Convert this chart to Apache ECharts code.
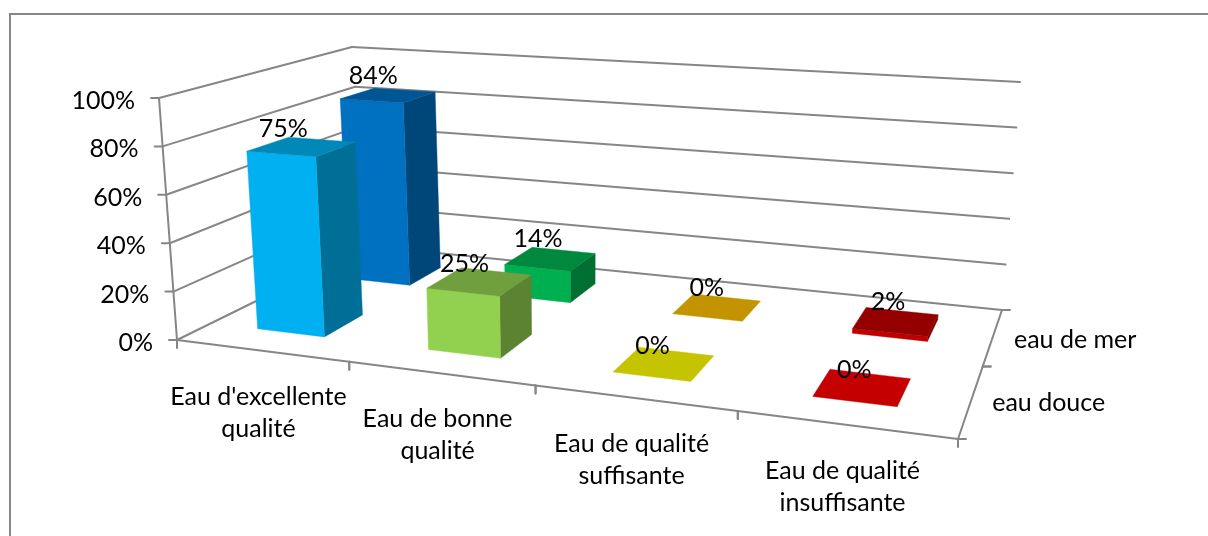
<!DOCTYPE html>
<html><head><meta charset="utf-8">
<style>html,body{margin:0;padding:0;background:#fff}#c{width:1208px;height:536px}</style>
<script src="https://cdn.jsdelivr.net/npm/echarts@6/dist/echarts.min.js"></script>
</head><body><div id="c"></div>
<script>
// Data
const categories = ["Eau d'excellente\nqualité", "Eau de bonne\nqualité", "Eau de qualité\nsuffisante", "Eau de qualité\ninsuffisante"];
const depthLabels = ["eau douce", "eau de mer"];
const valueTicks = [0, 20, 40, 60, 80, 100];
const eauDouce = [75, 25, 0, 0];
const eauDeMer = [84, 14, 0, 2];
const coloursDouce = ['#00B0F0', '#92D050', '#FFFF00', '#FF0000'];
const coloursMer = ['#0070C0', '#00B050', '#FFC000', '#C00000'];

// Perspective box: corners FL, FR, BR, BL of floor and ceiling on the page
const floorQuad = [[177, 340], [958, 439], [1002, 310], [368, 246]];
const ceilQuad = [[159, 98], [978, 164], [1020, 82], [352, 47]];
const vanishX = 578, leanK = 0.045;
const lineCol = '#868686';
const textCol = '#000';
const fontCss = '25px Lato, sans-serif';
const barHalfU = 0.05, barHalfV = 0.1, barShiftU = -0.004, backRowShiftU = -0.007;

function homography(q) {
  const [p0, p1, p2, p3] = q;
  const sx = p0[0] - p1[0] + p2[0] - p3[0], sy = p0[1] - p1[1] + p2[1] - p3[1];
  const dx1 = p1[0] - p2[0], dx2 = p3[0] - p2[0], dy1 = p1[1] - p2[1], dy2 = p3[1] - p2[1];
  const det = dx1 * dy2 - dx2 * dy1;
  const g = (sx * dy2 - dx2 * sy) / det, h = (dx1 * sy - sx * dy1) / det;
  const a = p1[0] - p0[0] + g * p1[0], b = p3[0] - p0[0] + h * p3[0];
  const d = p1[1] - p0[1] + g * p1[1], e = p3[1] - p0[1] + h * p3[1];
  return (u, v) => {
    const w = 1 + g * u + h * v;
    return [(a * u + b * v + p0[0]) / w, (d * u + e * v + p0[1]) / w];
  };
}
const floorMap = homography(floorQuad), ceilMap = homography(ceilQuad);
// u: position along categories, v: depth, t: height (all 0..1)
function project(u, v, t) {
  const f = floorMap(u, v), c = ceilMap(u, v);
  return [f[0] + (c[0] - f[0]) * t, f[1] + (c[1] - f[1]) * t];
}
// bars lean toward one vertical vanishing point
function projectBar(u, v, t) {
  const f = floorMap(u, v), c = ceilMap(u, v);
  return [f[0] + (f[0] - vanishX) * leanK * t, f[1] + (c[1] - f[1]) * t];
}
function shade(hex, k) {
  const n = parseInt(hex.slice(1), 16);
  const ch = s => Math.round(((n >> s) & 255) * k);
  return `rgb(${ch(16)},${ch(8)},${ch(0)})`;
}
// read normalized position through the (invisible) cartesian axes
function uOf(api, params, xv) {
  const cs = params.coordSys;
  return (api.coord([xv, 0])[0] - cs.x) / cs.width;
}
function tOf(api, params, yv) {
  const cs = params.coordSys;
  return (cs.y + cs.height - api.coord([0, yv])[1]) / cs.height;
}
const line = (a, b, w) => ({
  type: 'line', silent: true,
  shape: { x1: a[0], y1: a[1], x2: b[0], y2: b[1] },
  style: { stroke: lineCol, lineWidth: w || 2, lineCap: 'round' }
});
const poly = (pts, fill) => ({
  type: 'polygon', silent: true, shape: { points: pts },
  style: { fill: fill, stroke: fill, lineWidth: 0.4 }
});
const text = (s, x, y, align, lh) => ({
  type: 'text', silent: true, z2: 10,
  style: { text: s, x: x, y: y, align: align, verticalAlign: 'middle', font: fontCss, fill: textCol, lineHeight: lh || 32 }
});

function barSeries(name, values, colours, depthIdx, z) {
  const vC = (depthIdx + 0.5) / depthLabels.length;
  return {
    name: name, type: 'custom', coordinateSystem: 'cartesian2d', z: z, silent: true,
    data: values.map((v, i) => [i, v]),
    renderItem(params, api) {
      const col = colours[params.dataIndex];
      const uc = uOf(api, params, api.value(0));
      const u = uc + barShiftU + depthIdx * backRowShiftU * (1 - uc);
      const t = tOf(api, params, api.value(1));
      const u0 = u - barHalfU, u1 = u + barHalfU, v0 = vC - barHalfV, v1 = vC + barHalfV;
      const P = projectBar;
      const kids = [];
      if (t > 0) {
        kids.push(poly([P(u1, v0, 0), P(u1, v1, 0), P(u1, v1, t), P(u1, v0, t)], shade(col, 0.63)));
        kids.push(poly([P(u0, v0, 0), P(u1, v0, 0), P(u1, v0, t), P(u0, v0, t)], col));
      }
      kids.push(poly([P(u0, v0, t), P(u1, v0, t), P(u1, v1, t), P(u0, v1, t)], shade(col, 0.77)));
      return { type: 'group', children: kids };
    }
  };
}
function labelSeries(name, values, depthIdx) {
  const vC = (depthIdx + 0.5) / depthLabels.length;
  return {
    name: name + ' labels', type: 'custom', coordinateSystem: 'cartesian2d', z: 8, silent: true,
    data: values.map((v, i) => [i, v]),
    renderItem(params, api) {
      const u = uOf(api, params, api.value(0));
      const t = tOf(api, params, api.value(1));
      const p = projectBar(u, vC, t);
      return text(api.value(1) + '%', p[0] - 23 + 13 * u, p[1] - (depthIdx ? 20 : 18), 'center');
    }
  };
}

const option = {
  animation: false,
  backgroundColor: '#fff',
  grid: { left: 0, right: 0, top: 0, bottom: 0, containLabel: false },
  xAxis: { type: 'category', data: categories, show: false },
  yAxis: { type: 'value', min: 0, max: 100, interval: 20, show: false },
  graphic: [
    { type: 'polyline', silent: true, shape: { points: [[10, 536], [10, 14], [1208, 14]] }, style: { stroke: lineCol, lineWidth: 2, fill: null } }
  ],
  series: [
    { // walls, gridlines and value labels
      name: 'valeurs', type: 'custom', coordinateSystem: 'cartesian2d', z: 1, silent: true,
      data: valueTicks.map(v => [0, v]),
      renderItem(params, api) {
        const val = api.value(1), t = tOf(api, params, val);
        const a = project(0, 0, t), b = project(0, 1, t), c = project(1, 1, t);
        const kids = [
          line(a, b), line(b, c),
          line(a, [a[0] - 8, a[1]]),
          text(val + '%', a[0] - 24, a[1] + 3, 'right')
        ];
        if (params.dataIndex === 0) kids.push(line(project(0, 0, 0), project(0, 0, 1)));
        return { type: 'group', children: kids };
      }
    },
    { // category axis
      name: 'catégories', type: 'custom', coordinateSystem: 'cartesian2d', z: 1, silent: true,
      data: categories.map((c, i) => [i]),
      renderItem(params, api) {
        const i = api.value(0), n = categories.length;
        const u0 = i / n, u1 = (i + 1) / n, uc = (i + 0.5) / n;
        const a = project(u0, 0, 0), b = project(u1, 0, 0), m = project(uc, 0, 0);
        const kids = [line(a, b), line(a, [a[0], a[1] + 8]), line(b, [b[0], b[1] + 8]),
          text(categories[i], m[0] - 3, m[1] + 62, 'center')];
        return { type: 'group', children: kids };
      }
    },
    { // depth axis
      name: 'profondeur', type: 'custom', coordinateSystem: 'cartesian2d', z: 1, silent: true,
      data: depthLabels.map((c, i) => [i]),
      renderItem(params, api) {
        const i = api.value(0), n = depthLabels.length;
        const a = project(1, i / n, 0), b = project(1, (i + 1) / n, 0), m = project(1, (i + 0.5) / n, 0);
        return { type: 'group', children: [
          line(a, b), line(a, [a[0] + 8, a[1]]), line(b, [b[0] + 8, b[1]]),
          text(depthLabels[i], m[0] + 21, m[1] + 3, 'left')
        ] };
      }
    },
    barSeries('eau de mer', eauDeMer, coloursMer, 1, 3),
    barSeries('eau douce', eauDouce, coloursDouce, 0, 4),
    labelSeries('eau de mer', eauDeMer, 1),
    labelSeries('eau douce', eauDouce, 0)
  ]
};
echarts.init(document.getElementById('c'), null, { renderer: 'canvas' }).setOption(option);
</script></body></html>
